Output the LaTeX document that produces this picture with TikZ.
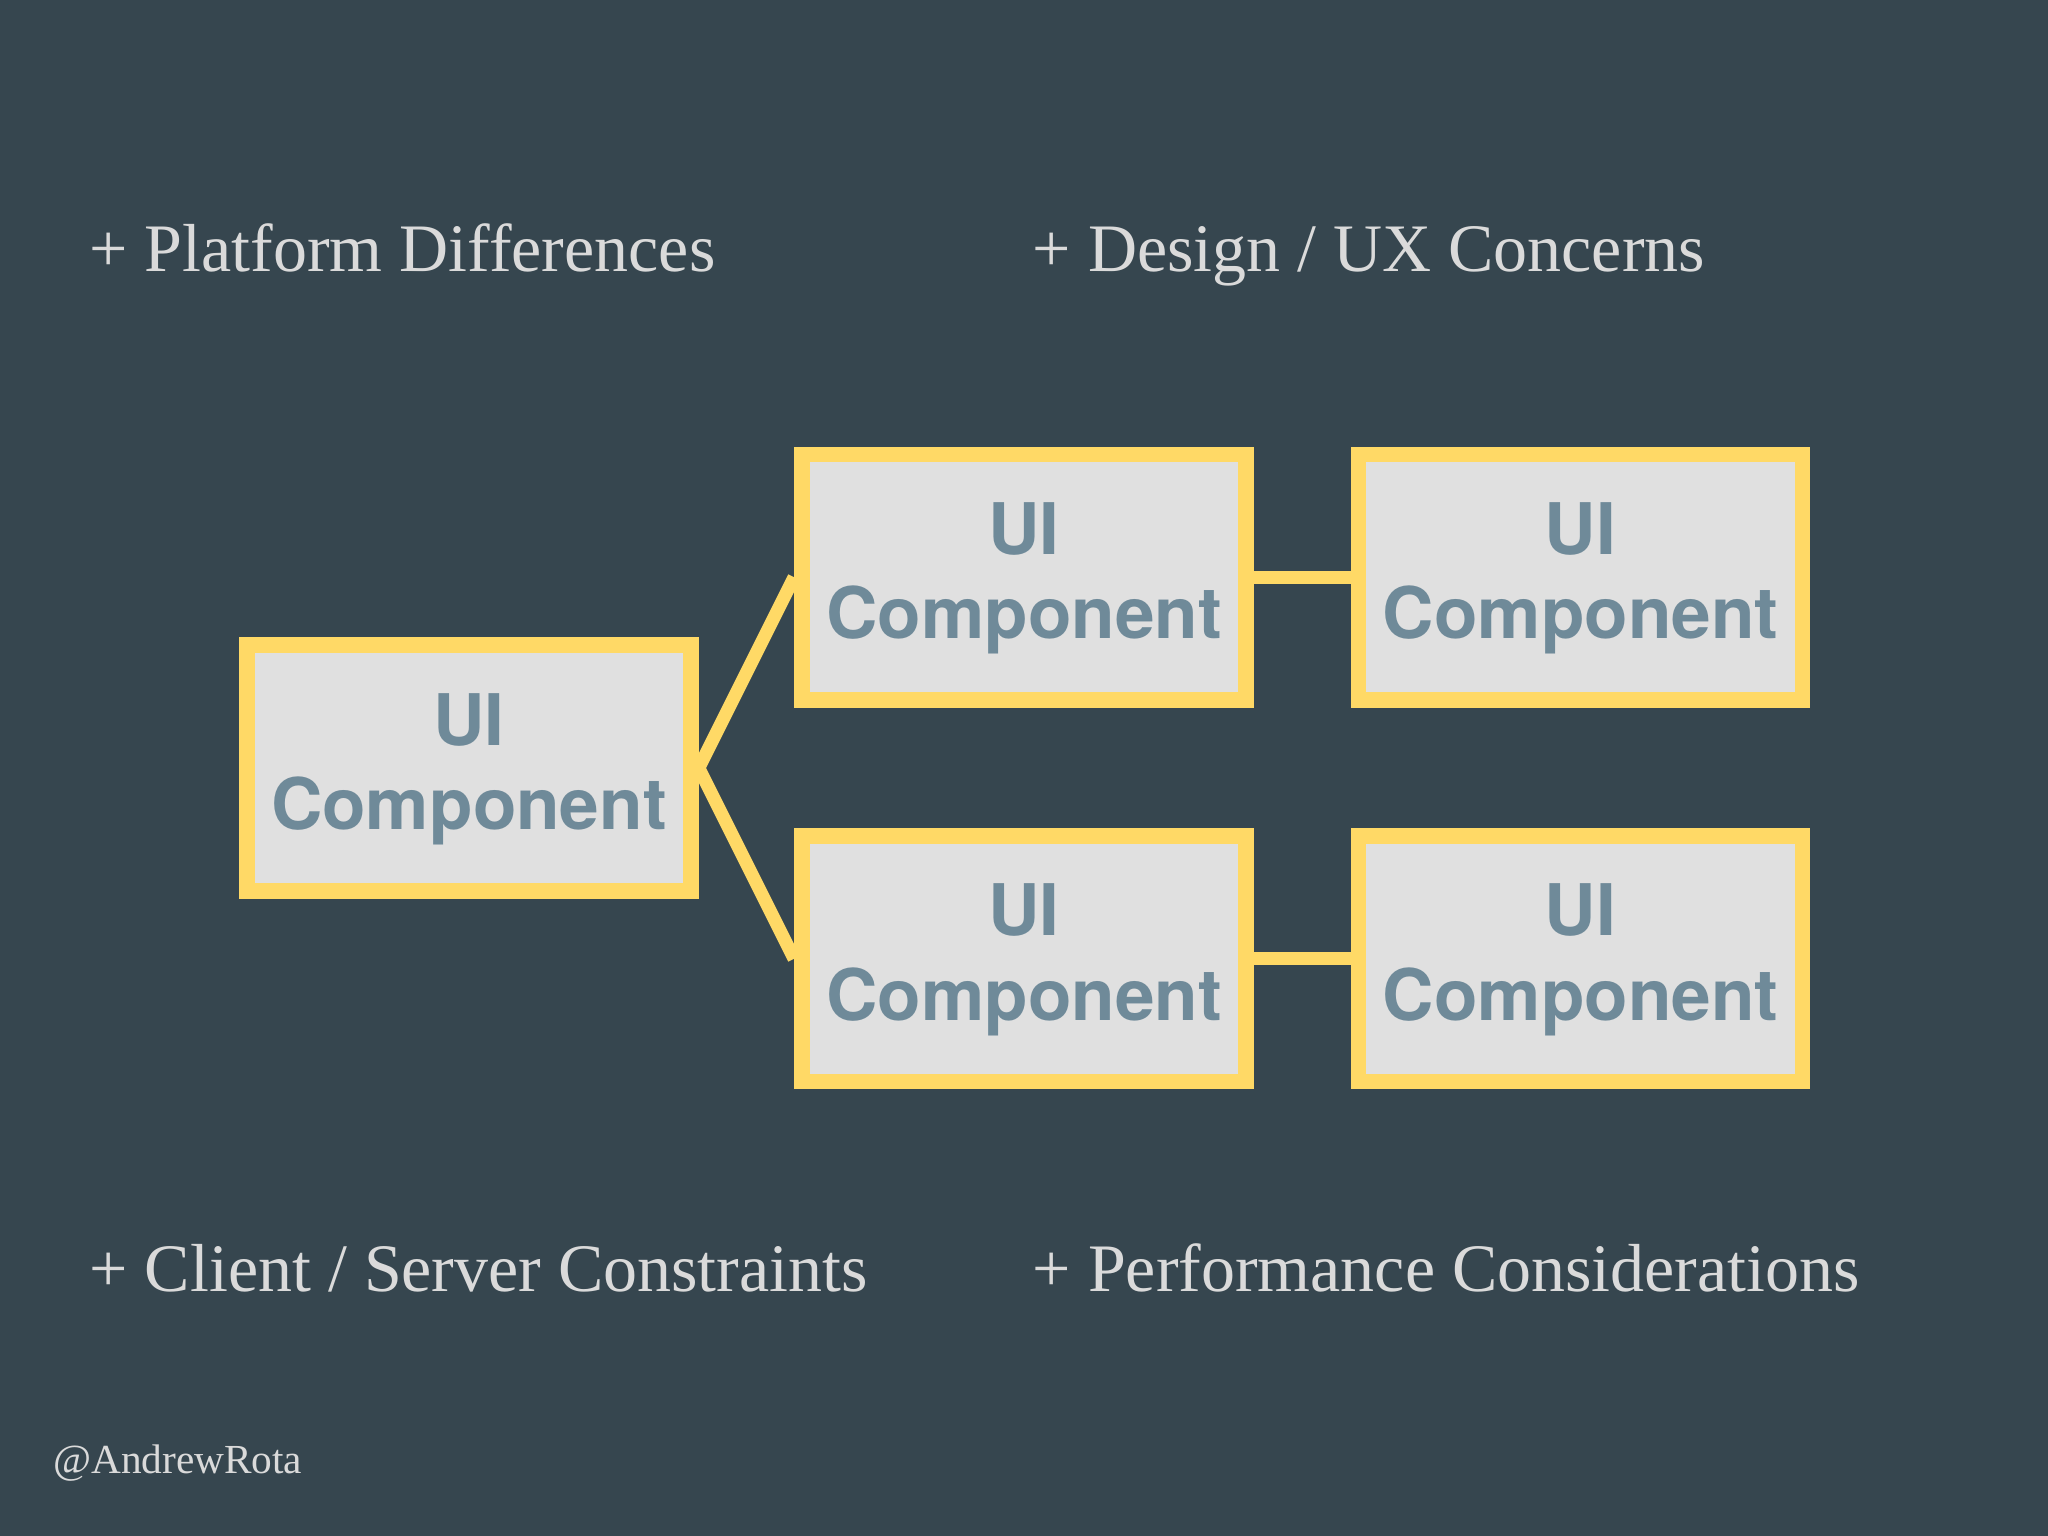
\documentclass[tikz,border=0pt]{standalone}
\usepackage{fontspec}
\setmainfont{Liberation Serif}
\newfontfamily\heros{TeX Gyre Heros}
\usetikzlibrary{positioning}
\definecolor{slate}{HTML}{36464F}
\definecolor{boxfill}{HTML}{E0E0E0}
\definecolor{boxline}{HTML}{FFD966}
\definecolor{boxtext}{HTML}{6F8A99}
\definecolor{note}{HTML}{DADADA}

\tikzstyle{comp} = [rectangle, minimum width=3.4cm, minimum height=1.88cm, text centered, align=center, line width=0.12cm, draw=boxline, fill=boxfill, text=boxtext, font=\heros\bfseries\fontsize{15.5}{18.4}\selectfont]
\tikzstyle{concern} = [anchor=base west, inner sep=0, text=note, font=\fontsize{14.8}{18}\selectfont]
\tikzstyle{link} = [line width=0.1cm, draw=boxline]

\begin{document}
\begin{tikzpicture}[node distance=0.74cm]
    \fill[slate] (0,0) rectangle (15.68,-11.76);
    \useasboundingbox (0,0) rectangle (15.68,-11.76);
	\node (Root) at (3.59,-5.88) [comp, text depth=0.1cm] {UI\\Component};
	\node (TopMid) at (7.84,-4.42) [comp, text depth=0.1cm] {UI\\Component};
	\node (TopRight) [comp, text depth=0.1cm, right=of TopMid] {UI\\Component};
	\node (BotMid) at (7.84,-7.34) [comp, text depth=0.1cm] {UI\\Component};
	\node (BotRight) [comp, text depth=0.1cm, right=of BotMid] {UI\\Component};
	\draw [link] (Root.east) -- (TopMid.west);
	\draw [link] (Root.east) -- (BotMid.west);
	\draw [link] (TopMid) -- (TopRight);
	\draw [link] (BotMid) -- (BotRight);
	\node (Platform) at (0.68,-2.08) [concern] {+ Platform Differences};
	\node (Design) at (7.9,-2.08) [concern] {+ Design / UX Concerns};
	\node (Client) at (0.68,-9.89) [concern] {+ Client / Server Constraints};
	\node (Perf) at (7.9,-9.89) [concern] {+ Performance Considerations};
	\node (Handle) at (0.4,-11.28) [concern, font=\fontsize{9}{11}\selectfont] {@AndrewRota};
\end{tikzpicture}
\end{document}
